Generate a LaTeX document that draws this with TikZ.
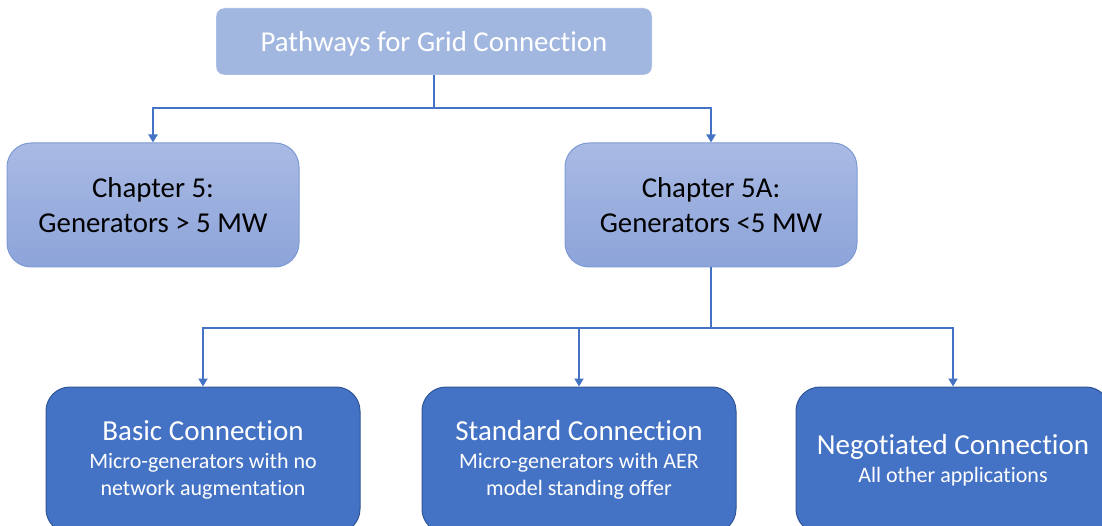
\documentclass[tikz,border=0pt]{standalone}
\usepackage{fontspec}
\setmainfont{Carlito}[Ligatures=NoCommon]
\usetikzlibrary{arrows.meta}
\newcommand{\nolig}{\kern0pt}
\definecolor{headfill}{HTML}{A2B7E0}
\definecolor{chaptop}{HTML}{A9BAE4}
\definecolor{chapbot}{HTML}{8DA4D9}
\definecolor{chapline}{HTML}{7F9BD5}
\definecolor{pathfill}{HTML}{4472C4}
\definecolor{pathline}{HTML}{2F5597}
\definecolor{linkblue}{HTML}{4472C4}
\begin{document}
\begin{tikzpicture}[
  x=1pt,y=-1pt,
  head/.style={fill=headfill,draw=white,rounded corners=8pt,text=white,
    minimum width=436pt,minimum height=67pt,text height=25pt,text depth=4pt,
    font=\fontsize{28.8}{35}\selectfont},
  chap/.style={draw=chapline,line width=1pt,top color=chaptop,bottom color=chapbot,
    rounded corners=24pt,align=center,minimum width=292pt,minimum height=124pt,
    font=\fontsize{28.8}{35}\selectfont},
  pathbox/.style={draw=pathline,line width=1pt,fill=pathfill,text=white,
    rounded corners=24pt,align=center,minimum width=314pt,minimum height=146pt,
    font=\fontsize{22}{27}\selectfont},
  flow/.style={draw=linkblue,line width=2pt,-{Triangle[length=8pt,width=9pt]}}]
\path[use as bounding box,clip] (0,0) rectangle (1102,526);
\node[head] (grid) at (434,41.5) {Pathways for Grid Connect\nolig ion};
\node[chap] (ch5) at (153,205) {Chapter 5:\\Generators > 5 MW};
\node[chap] (ch5a) at (711,205) {Chapter 5A:\\Generators <5 MW};
\node[pathbox] (basic) at (203,460)
  {{\fontsize{29}{35}\selectfont Basic Connect\nolig ion}\\[1pt]Micro-generators with no\\network augmentat\nolig ion};
\node[pathbox] (standard) at (579,460)
  {{\fontsize{29}{35}\selectfont Standard Connect\nolig ion}\\[1pt]Micro-generators with AER\\model standing offer};
\node[pathbox] (negotiated) at (953,460)
  {{\fontsize{29}{35}\selectfont Negot\nolig iated Connect\nolig ion}\\[1pt]All other applicat\nolig ions};
\draw[flow] (grid.south) -- ++(0,33) -| (ch5.north);
\draw[flow] (grid.south) -- ++(0,33) -| (ch5a.north);
\draw[flow] (ch5a.south) -- ++(0,60) -| (basic.north);
\draw[flow] (ch5a.south) -- ++(0,60) -| (standard.north);
\draw[flow] (ch5a.south) -- ++(0,60) -| (negotiated.north);
\end{tikzpicture}
\end{document}
